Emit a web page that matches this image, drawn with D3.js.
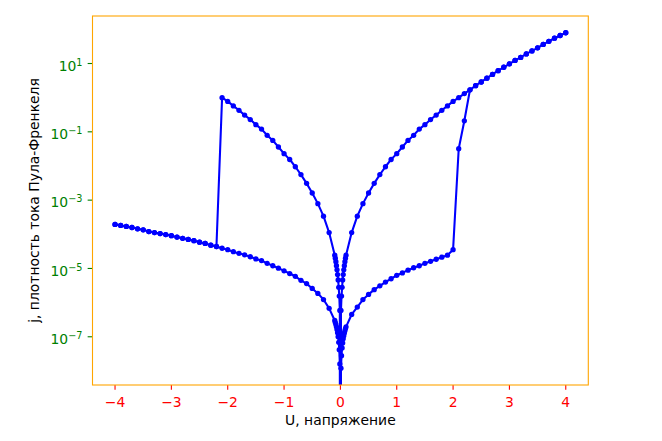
<!DOCTYPE html>
<html><head><meta charset="utf-8">
<script src="https://cdn.jsdelivr.net/npm/d3@7"></script>
<style>body{margin:0;background:#fff}svg{display:block}</style>
</head><body><svg id="c" width="662" height="441"></svg>
<script>
// |U| grid (V)
const vGrid = [0.01,0.02,0.03,0.04,0.05,0.06,0.07,0.08,0.09,0.1,
  0.2,0.3,0.4,0.5,0.6,0.7,0.8,0.9,1.0,1.1,1.2,1.3,1.4,1.5,1.6,1.7,1.8,1.9,2.0,
  2.1,2.2,2.3,2.4,2.5,2.6,2.7,2.8,2.9,3.0,3.1,3.2,3.3,3.4,3.5,3.6,3.7,3.8,3.9,4.0];
// high-conductance state (both polarities)
const jHigh = [5.9e-7,1.55e-6,2.8e-6,4.6e-6,6.6e-6,9.1e-6,1.2e-5,1.58e-5,2.0e-5,2.45e-5,
  1.12e-4,3.4e-4,7.9e-4,1.62e-3,3.1e-3,5.6e-3,9.5e-3,1.55e-2,2.3e-2,3.6e-2,5.6e-2,7.9e-2,0.12,0.162,0.229,0.309,0.427,0.575,0.776,
  1.0,1.32,1.70,2.24,2.88,3.72,4.79,6.17,7.76,9.77,12.3,15.1,19.1,23.4,28.8,36.3,44.7,55.0,66.1,79.4];
// low state, positive sweep 0.01 .. 2.0 V
const jLowPos = [1.2e-8,2.8e-8,4.7e-8,6.6e-8,8.7e-8,1.07e-7,1.29e-7,1.51e-7,1.74e-7,1.95e-7,
  4.5e-7,7.4e-7,1.23e-6,1.74e-6,2.4e-6,3.1e-6,4.0e-6,5.0e-6,6.3e-6,7.4e-6,8.9e-6,1.05e-5,1.2e-5,1.41e-5,1.62e-5,1.86e-5,2.14e-5,2.45e-5,3.55e-5];
// low state, negative sweep (|U| = vGrid)
const jLowNeg = [1.6e-8,4.2e-8,6.9e-8,1.0e-7,1.32e-7,1.62e-7,1.95e-7,2.3e-7,2.6e-7,3.0e-7,
  6.8e-7,1.23e-6,1.86e-6,2.6e-6,3.6e-6,4.5e-6,5.9e-6,7.1e-6,8.5e-6,1.02e-5,1.2e-5,1.41e-5,1.7e-5,1.9e-5,2.2e-5,2.5e-5,2.75e-5,3.1e-5,3.55e-5,
  3.9e-5,4.4e-5,4.8e-5,5.4e-5,5.9e-5,6.5e-5,7.1e-5,7.6e-5,8.3e-5,9.1e-5,9.8e-5,1.05e-4,1.12e-4,1.2e-4,1.35e-4,1.45e-4,1.58e-4,1.7e-4,1.82e-4,1.95e-4];
// SET transition points
const uSet = [2.1, 2.2];
const jSet = [3.2e-2, 0.21];
// last high-state point before RESET (|U|)
const uResetAbs = 2.1;
const xTicks = [-4,-3,-2,-1,0,1,2,3,4];
const yTickExps = [-7,-5,-3,-1,1];
const xLabel = "U, напряжение";
const yLabel = "j, плотность тока Пула-Френкеля";

// build the sweep sequence
const pts = [];
pts.push([0, 0]);
jLowPos.forEach((j, i) => pts.push([vGrid[i], j]));
uSet.forEach((u, i) => pts.push([u, jSet[i]]));
const uSetMax = uSet[uSet.length - 1];
vGrid.forEach((v, i) => { if (v > uSetMax) pts.push([v, jHigh[i]]); });
for (let i = vGrid.length - 1; i >= 0; i--) pts.push([vGrid[i], jHigh[i]]);
pts.push([0, 0]);
vGrid.forEach((v, i) => { if (v <= uResetAbs) pts.push([-v, jHigh[i]]); });
vGrid.forEach((v, i) => { if (v > uResetAbs) pts.push([-v, jLowNeg[i]]); });
for (let i = vGrid.length - 1; i >= 0; i--) pts.push([-vGrid[i], jLowNeg[i]]);
pts.push([0, 0]);

const L = 92.5, R = 588.3, T = 16, B = 385;
const svg = d3.select("#c");
const font = "DejaVu Sans, sans-serif";

const x = d3.scaleLinear().domain([-4.4, 4.4]).range([L, R]);
const pos = pts.filter(p => p[1] > 0).map(p => Math.log10(p[1]));
const lmin = d3.min(pos), lmax = d3.max(pos), pad = (lmax - lmin) * 0.05;
const y = d3.scaleLog().domain([Math.pow(10, lmin - pad), Math.pow(10, lmax + pad)]).range([B, T]);
const yy = v => v > 0 ? y(v) : B + 5000;

svg.append("defs").append("clipPath").attr("id", "clip")
  .append("rect").attr("x", L).attr("y", T).attr("width", R - L).attr("height", B - T);

const g = svg.append("g").attr("clip-path", "url(#clip)");
g.append("path").datum(pts)
  .attr("d", d3.line().x(d => x(d[0])).y(d => yy(d[1])))
  .attr("fill", "none").attr("stroke", "#0000ff").attr("stroke-width", 2.08)
  .attr("stroke-linejoin", "round");
g.selectAll("circle").data(pts.filter(p => p[1] > 0)).join("circle")
  .attr("cx", d => x(d[0])).attr("cy", d => y(d[1])).attr("r", 2.65).attr("fill", "#0000ff");

// x axis ticks
const xa = svg.append("g");
xTicks.forEach(t => {
  xa.append("line").attr("x1", x(t)).attr("x2", x(t)).attr("y1", B).attr("y2", B + 4.86)
    .attr("stroke", "red").attr("stroke-width", 1.1);
  xa.append("text").attr("x", x(t)).attr("y", B + 21.5).attr("text-anchor", "middle")
    .attr("font-family", font).attr("font-size", 13.9).attr("fill", "red")
    .text(t < 0 ? "\u2212" + Math.abs(t) : String(t));
});
// y axis ticks
const ya = svg.append("g");
yTickExps.forEach(e => {
  const py = y(Math.pow(10, e));
  ya.append("line").attr("x1", L - 4.86).attr("x2", L).attr("y1", py).attr("y2", py)
    .attr("stroke", "green").attr("stroke-width", 1.1);
  const t = ya.append("text").attr("x", L - 10).attr("y", py + 7.3).attr("text-anchor", "end")
    .attr("font-family", font).attr("fill", "green");
  t.append("tspan").attr("font-size", 13.9).text("10");
  t.append("tspan").attr("font-size", 9.7).attr("dy", -5)
    .text(e < 0 ? "\u2212" + Math.abs(e) : String(e));
});

// spines
svg.append("rect").attr("x", L).attr("y", T).attr("width", R - L).attr("height", B - T)
  .attr("fill", "none").attr("stroke", "orange").attr("stroke-width", 1.1);

// labels
svg.append("text").attr("x", (L + R) / 2).attr("y", 425).attr("text-anchor", "middle")
  .attr("font-family", font).attr("font-size", 13.9).attr("fill", "black").text(xLabel);
svg.append("text").attr("transform", `translate(39,${(T + B) / 2}) rotate(-90)`)
  .attr("text-anchor", "middle").attr("font-family", font).attr("font-size", 13.9)
  .attr("fill", "black").text(yLabel);
</script></body></html>
